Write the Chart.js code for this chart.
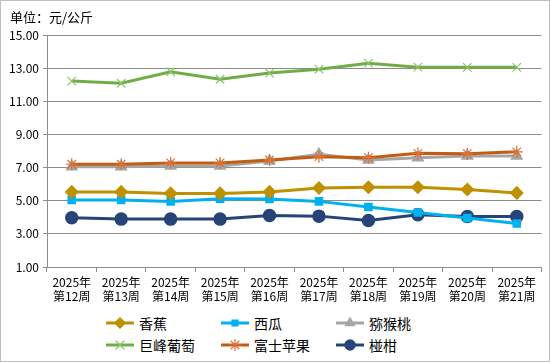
<!DOCTYPE html>
<html>
<head>
<meta charset="utf-8">
<script src="https://cdn.jsdelivr.net/npm/chart.js@4/dist/chart.umd.min.js"></script>
<style>
  html,body{margin:0;padding:0;background:#fff;}
  #wrap{position:relative;width:550px;height:362px;box-sizing:border-box;border:1px solid #bfbfbf;background:#fff;
    font-family:"Noto Sans CJK SC","DejaVu Sans",sans-serif;}
  #unit{position:absolute;left:9px;top:6px;font-size:13px;color:#000;}
  #cv{position:absolute;left:0;top:0;}
  #legend{position:absolute;left:0;top:311px;width:548px;}
  .lg{position:absolute;display:flex;align-items:center;font-size:14px;color:#000;height:20px;}
  .lg canvas{margin-right:5px;}
</style>
</head>
<body>
<div id="wrap">
  <canvas id="cv" width="548" height="310"></canvas>
  <div id="unit">单位：元/公斤</div>
  <div id="legend"></div>
</div>
<script>
// 周度价格 元/公斤
const weeks = ['12','13','14','15','16','17','18','19','20','21'];
const xLabels = weeks.map(w => ['2025年', '第' + w + '周']);
const yTicks = [1, 3, 5, 7, 9, 11, 13, 15];

const banana     = [5.53, 5.53, 5.44, 5.44, 5.53, 5.77, 5.81, 5.81, 5.68, 5.47];
const watermelon = [5.04, 5.04, 4.96, 5.12, 5.10, 4.96, 4.62, 4.29, 3.95, 3.62];
const kiwi       = [7.05, 7.05, 7.10, 7.10, 7.40, 7.80, 7.45, 7.60, 7.70, 7.70];
const grape      = [12.22, 12.09, 12.78, 12.33, 12.70, 12.94, 13.30, 13.06, 13.05, 13.05];
const apple      = [7.20, 7.20, 7.28, 7.28, 7.46, 7.66, 7.60, 7.86, 7.84, 7.95];
const tangerine  = [3.97, 3.89, 3.89, 3.89, 4.11, 4.07, 3.80, 4.15, 4.05, 4.05];

const SERIES = [
  { name:'香蕉',     data:banana,     color:'#bf9000', mark:'#bf9000', style:'rectRot',  r:6, lr:5, bw:1.5 },
  { name:'西瓜',     data:watermelon, color:'#00b0f0', mark:'#00b0f0', style:'rect',     r:5, lr:4, bw:1.5 },
  { name:'猕猴桃',   data:kiwi,       color:'#a5a5a5', mark:'#a5a5a5', style:'triangle', r:6, lr:5, bw:1.5 },
  { name:'巨峰葡萄', data:grape,      color:'#70ad47', mark:'#8cc46a', style:'crossRot', r:6, lr:6, bw:1.2 },
  { name:'富士苹果', data:apple,      color:'#c55a11', mark:'#d9733a', style:'star',     r:6, lr:6, bw:1.2 },
  { name:'椪柑',     data:tangerine,  color:'#264478', mark:'#264478', style:'circle',   r:6, lr:5, bw:1.5 }
];

const gridColor = '#8c8c8c';
const tickFont = { family:'"Noto Sans CJK SC","DejaVu Sans",sans-serif', size:12 };

const chart = new Chart(document.getElementById('cv'), {
  type:'line',
  data:{
    labels:xLabels,
    datasets:SERIES.map((s,i)=>({
      label:s.name,
      data:s.data,
      borderColor:s.color,
      backgroundColor:s.mark,
      borderWidth:3,
      pointStyle:s.style,
      pointRadius:s.r,
      pointBorderColor:s.mark,
      pointBackgroundColor:s.mark,
      pointBorderWidth:s.bw,
      tension:0,
      order: i===2 ? 5 : i
    }))
  },
  options:{
    responsive:false,
    animation:false,
    layout:{ padding:{ left:0, right:7, top:34, bottom:0 } },
    plugins:{ legend:{ display:false }, tooltip:{ enabled:false }, title:{ display:false } },
    scales:{
      x:{
        offset:true,
        grid:{ offset:true, drawOnChartArea:false, drawTicks:true, tickLength:5, color:gridColor },
        border:{ color:gridColor, width:1 },
        ticks:{ color:'#000', font:tickFont, maxRotation:0, autoSkip:false, padding:3 },
        afterFit(scale){ scale.height = 310 - 266; }
      },
      y:{
        min:1, max:15,
        afterBuildTicks(scale){ scale.ticks = yTicks.map(v=>({ value:v })); },
        grid:{ color:gridColor, lineWidth:1, tickLength:4 },
        border:{ color:gridColor, width:1 },
        ticks:{ color:'#000', font:tickFont, padding:4, callback:v=>Number(v).toFixed(2) },
        afterFit(scale){ scale.width = 46; }
      }
    }
  }
});

// 图例 (3 列)
(function(){
  const box = document.getElementById('legend');
  const cols = [105, 220, 335];
  SERIES.forEach((s,i)=>{
    const item = document.createElement('div');
    item.className = 'lg';
    item.style.left = cols[i%3] + 'px';
    item.style.top = (i<3 ? 1 : 23) + 'px';
    const c = document.createElement('canvas');
    c.width = 28; c.height = 16;
    const ctx = c.getContext('2d');
    ctx.strokeStyle = s.color; ctx.lineWidth = 3;
    ctx.beginPath(); ctx.moveTo(0,8); ctx.lineTo(28,8); ctx.stroke();
    ctx.fillStyle = s.mark; ctx.strokeStyle = s.mark; ctx.lineWidth = s.bw;
    Chart.helpers.drawPoint(ctx, { pointStyle:s.style, radius:s.lr, rotation:0, borderWidth:s.bw }, 14, 8);
    item.appendChild(c);
    const t = document.createElement('span');
    t.textContent = s.name;
    item.appendChild(t);
    box.appendChild(item);
  });
})();
</script>
</body>
</html>
